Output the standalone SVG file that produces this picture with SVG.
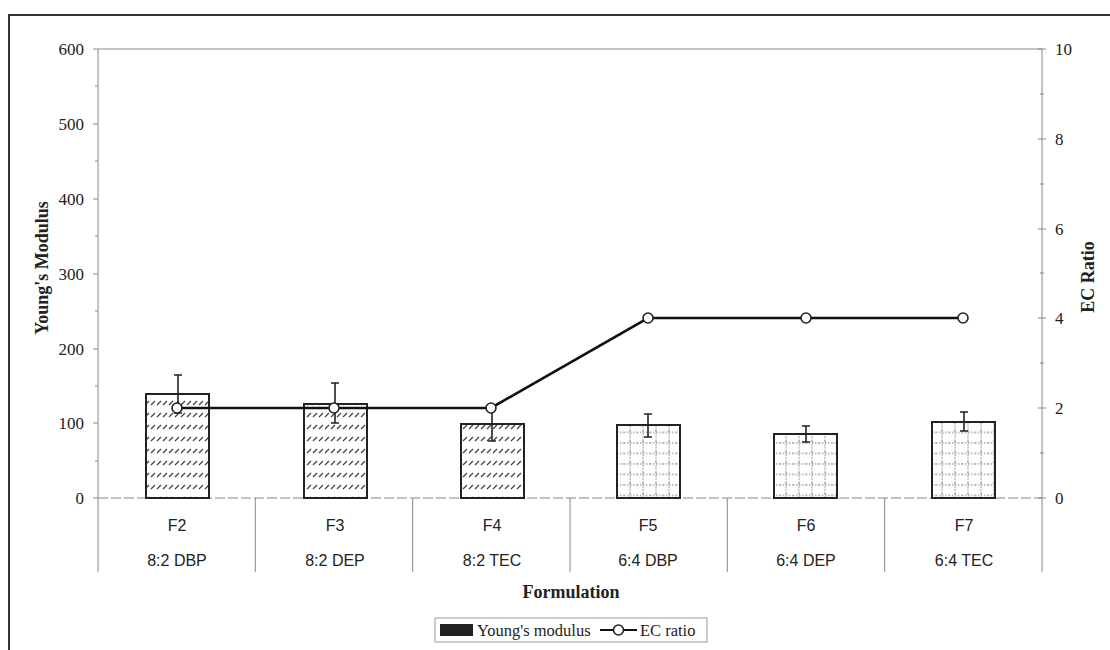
<svg xmlns="http://www.w3.org/2000/svg" width="1110" height="650" viewBox="0 0 1110 650">
<style>
.tick{font-family:"Liberation Serif",serif;font-size:17px;fill:#222}
.cat{font-family:"Liberation Sans",sans-serif;font-size:16px;fill:#222;text-anchor:middle}
.title{font-family:"Liberation Serif",serif;font-size:18px;font-weight:bold;fill:#222;text-anchor:middle}
.leg{font-family:"Liberation Serif",serif;font-size:16.5px;fill:#222}
.axis{stroke:#888;stroke-width:1;fill:none}
.bar{stroke:#222;stroke-width:2}
.err{stroke:#222;stroke-width:1.6;fill:none}
.mk{fill:#fff;stroke:#222;stroke-width:1.6}
</style>
<defs>
<pattern id="hatch" width="6" height="12" patternUnits="userSpaceOnUse">
<rect width="6" height="12" fill="#fff"/>
<path d="M1,9 L5,5" stroke="#444" stroke-width="1.2"/>
</pattern>
<pattern id="grid" width="13" height="10.5" patternUnits="userSpaceOnUse">
<rect width="13" height="10.5" fill="#fff"/>
<path d="M0,2 H13" stroke="#777" stroke-width="1" stroke-dasharray="1.5,1.5"/>
<path d="M6,0 V10.5" stroke="#777" stroke-width="1" stroke-dasharray="1.5,1.5"/>
</pattern>
</defs>
<rect width="1110" height="650" fill="#fff"/>
<path d="M9,650 V15 H1110" stroke="#333" stroke-width="2" fill="none"/>

<g id="axes">
<line class="axis" x1="98" y1="49" x2="1042" y2="49"/>
<line class="axis" x1="98" y1="498" x2="1042" y2="498" stroke-dasharray="10,3"/>
<line class="axis" x1="98" y1="49" x2="98" y2="572"/>
<line class="axis" x1="1042" y1="49" x2="1042" y2="572"/>
<path class="axis" d="M93,49H98M93,124H98M93,199H98M93,274H98M93,349H98M93,423H98M93,498H98M95,86H98M95,161H98M95,236H98M95,311H98M95,386H98M95,461H98"/>
<path class="axis" d="M1038,49H1046M1038,139H1046M1038,229H1046M1038,318H1046M1038,408H1046M1038,498H1046M1040,94H1044M1040,184H1044M1040,273H1044M1040,363H1044M1040,453H1044"/>
<path class="axis" d="M255.3,498V572M412.7,498V572M570,498V572M727.3,498V572M884.7,498V572"/>
</g>

<g id="left-ticks" class="tick" text-anchor="end">
<text x="84" y="55">600</text>
<text x="84" y="130">500</text>
<text x="84" y="205">400</text>
<text x="84" y="280">300</text>
<text x="84" y="355">200</text>
<text x="84" y="429">100</text>
<text x="84" y="504">0</text>
</g>
<g id="right-ticks" class="tick">
<text x="1055" y="55">10</text>
<text x="1055" y="145">8</text>
<text x="1055" y="235">6</text>
<text x="1055" y="324">4</text>
<text x="1055" y="414">2</text>
<text x="1055" y="504">0</text>
</g>
<text class="title" transform="translate(48,268) rotate(-90)">Young's Modulus</text>
<text class="title" transform="translate(1094,277) rotate(-90)">EC Ratio</text>

<g id="bars">
<g id="F2"><rect class="bar" x="146" y="394" width="63" height="104" fill="url(#hatch)"/><text class="cat" x="177" y="531">F2</text><text class="cat" x="177" y="566">8:2 DBP</text></g>
<g id="F3"><rect class="bar" x="304" y="404" width="63" height="94" fill="url(#hatch)"/><text class="cat" x="335" y="531">F3</text><text class="cat" x="335" y="566">8:2 DEP</text></g>
<g id="F4"><rect class="bar" x="461" y="424" width="63" height="74" fill="url(#hatch)"/><text class="cat" x="492" y="531">F4</text><text class="cat" x="492" y="566">8:2 TEC</text></g>
<g id="F5"><rect class="bar" x="617" y="425" width="63" height="73" fill="url(#grid)"/><text class="cat" x="648" y="531">F5</text><text class="cat" x="648" y="566">6:4 DBP</text></g>
<g id="F6"><rect class="bar" x="774" y="434" width="63" height="64" fill="url(#grid)"/><text class="cat" x="806" y="531">F6</text><text class="cat" x="806" y="566">6:4 DEP</text></g>
<g id="F7"><rect class="bar" x="932" y="422" width="63" height="76" fill="url(#grid)"/><text class="cat" x="964" y="531">F7</text><text class="cat" x="964" y="566">6:4 TEC</text></g>
</g>

<g id="errorbars" class="err">
<path d="M178,375V413M174,375H182M174,413H182"/>
<path d="M335,383V423M331,383H339M331,423H339"/>
<path d="M492,407V441M488,407H496M488,441H496"/>
<path d="M648,414V437M644,414H652M644,437H652"/>
<path d="M806,426V442M802,426H810M802,442H810"/>
<path d="M964,412V431M960,412H968M960,431H968"/>
</g>

<g id="connectors">
<polyline points="177,408 334,408 491,408 648,318 806,318 963,318" fill="none" stroke="#111" stroke-width="2.6"/>
<circle class="mk" cx="177" cy="408" r="5"/>
<circle class="mk" cx="334" cy="408" r="5"/>
<circle class="mk" cx="491" cy="408" r="5"/>
<circle class="mk" cx="648" cy="318" r="5"/>
<circle class="mk" cx="806" cy="318" r="5"/>
<circle class="mk" cx="963" cy="318" r="5"/>
</g>

<text class="title" x="571" y="598">Formulation</text>

<g id="legend">
<rect x="435" y="618" width="272" height="24" fill="#fff" stroke="#999" stroke-width="1"/>
<rect x="440" y="624" width="33" height="12" fill="#222"/>
<text class="leg" x="477" y="636">Young's modulus</text>
<line x1="600" y1="630" x2="637" y2="630" stroke="#111" stroke-width="2"/>
<circle class="mk" cx="618.5" cy="630" r="5"/>
<text class="leg" x="640" y="636">EC ratio</text>
</g>
</svg>
